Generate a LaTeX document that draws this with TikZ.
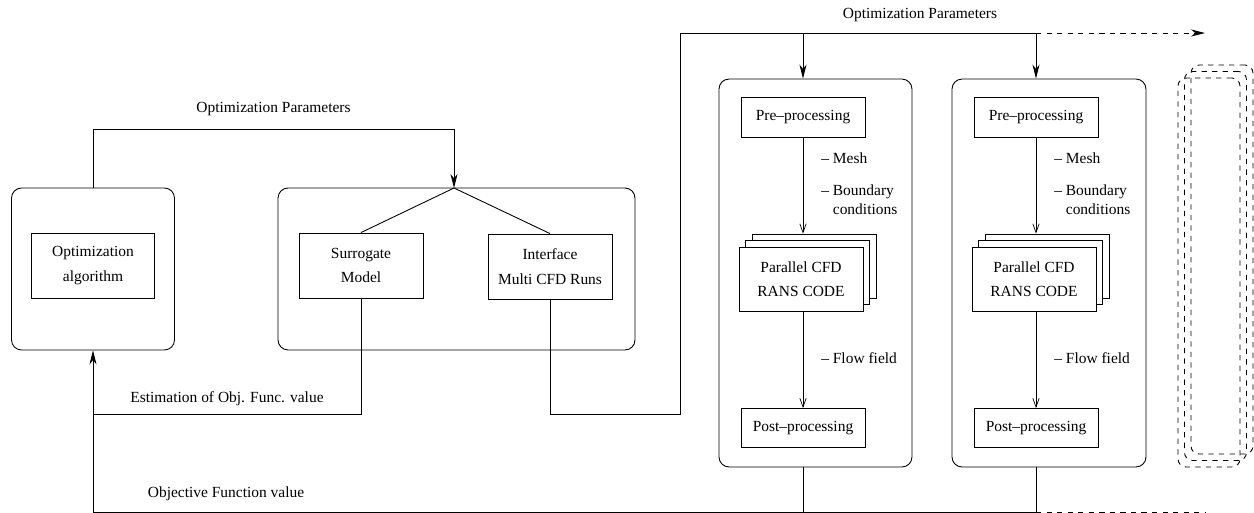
\documentclass[tikz,border=0pt]{standalone}
\usepackage{fontspec}
\setmainfont{Liberation Serif}
\usetikzlibrary{arrows.meta,shadows}

\begin{document}
\begin{tikzpicture}[x=0.02cm,y=-0.02cm,line width=0.5pt,
  font=\fontsize{8.8}{14}\selectfont,
  group/.style={draw,rounded corners=0.2cm},
  block/.style={draw,fill=white,align=center,minimum width=2.48cm,minimum height=1.3cm},
  stage/.style={draw,fill=white,minimum width=2.48cm,minimum height=0.8cm},
  ghost/.style={draw,dashed,rounded corners=0.16cm,minimum width=1.24cm,minimum height=7.78cm},
  stack/.style={copy shadow={shadow xshift=0.26cm,shadow yshift=0.26cm},
                copy shadow={shadow xshift=0.13cm,shadow yshift=0.13cm}},
  arr/.style={-{Stealth[length=8pt,width=4pt,inset=2.5pt]}},
  tip/.style={-{Straight Barb[length=5pt,width=3.6pt,line width=0.4pt]}},
  note/.style={anchor=west,align=left,font=\fontsize{8.8}{10.8}\selectfont}]
\useasboundingbox (0,0) rectangle (1254,512);
% optimizer and surrogate
\node[group,minimum width=3.26cm,minimum height=3.24cm] (optbox) at (93,269) {};
\node[block,minimum width=2.46cm] (optalg) at (93,265.5) {Optimization\\algorithm};
\node[group,minimum width=7.14cm,minimum height=3.24cm] (midbox) at (456.5,269) {};
\node[block] (surr) at (361,265.5) {Surrogate\\Model};
\node[block] (iface) at (550,266.5) {Interface\\Multi CFD Runs};
\coordinate (apex) at (454,188);
\coordinate (estjoin) at (93,414);
\coordinate (ifcorner) at (680,414);
\coordinate (topright) at (1036,33);
\coordinate (fanout) at (1205,33);
\coordinate (objend) at (1205,512.6);
% CFD runs
\node[group,minimum width=3.86cm,minimum height=7.76cm] (cfdA) at (815.5,273) {};
\node[stage] (preA) at (803,117) {Pre--processing};
\node[block,stack,minimum height=1.28cm] (parA) at (801,279) {Parallel CFD\\RANS CODE};
\node[stage,minimum height=0.78cm] (postA) at (803,428) {Post--processing};
\coordinate (parAtop) at ([yshift=0.26cm]parA.north);
\node[note] (meshA) at (815,158) {-- Mesh};
\node[note] (bcA) at (815,199.5) {-- Boundary\\\hphantom{-- }conditions};
\node[note] (flowA) at (815,358) {-- Flow field};
\node[group,minimum width=3.88cm,minimum height=7.76cm] (cfdB) at (1049,273) {};
\node[stage] (preB) at (1036,117) {Pre--processing};
\node[block,stack,minimum height=1.28cm] (parB) at (1034,279) {Parallel CFD\\RANS CODE};
\node[stage,minimum height=0.78cm] (postB) at (1036,428) {Post--processing};
\coordinate (parBtop) at ([yshift=0.26cm]parB.north);
\node[note] (meshB) at (1048,158) {-- Mesh};
\node[note] (bcB) at (1048,199.5) {-- Boundary\\\hphantom{-- }conditions};
\node[note] (flowB) at (1048,358) {-- Flow field};
% more runs
\node[ghost] (ghostA) at (1209,272.5) {};
\node[ghost] (ghostB) at (1215.5,266) {};
\node[ghost] (ghostC) at (1222,259.5) {};
% connectors
\draw[arr] (optbox.north) -- ++(0,-58) -| node[pos=0.25,above=4pt] {Optimization Parameters} (apex);
\draw (apex) -- (surr.north);
\draw (apex) -- (iface.north);
\draw (surr.south) |- node[pos=0.75,above=1pt] {Estimation of Obj. Func. value} (estjoin);
\draw (iface.south) |- (ifcorner) |- (topright);
\node (toplbl) at (920,15) {Optimization Parameters};
\draw[arr] (preA |- topright) -- (preA |- cfdA.north);
\draw[arr] (topright) -- (preB |- cfdB.north);
\draw[arr,dashed] (topright) -- (fanout);
\draw[tip] (preA.south) -- (preA.south |- parAtop);
\draw[tip] (parA.south -| preA) -- (postA.north);
\draw[tip] (preB.south) -- (preB.south |- parBtop);
\draw[tip] (parB.south -| preB) -- (postB.north);
\draw (postA |- cfdA.south) -- (postA |- objend);
\draw (postB |- cfdB.south) -- (postB |- objend);
\draw[arr] (postB |- objend) -| (optbox.south);
\draw[dashed] (postB |- objend) -- (objend);
\node (objlbl) at (226,494) {Objective Function value};
\end{tikzpicture}
\end{document}
